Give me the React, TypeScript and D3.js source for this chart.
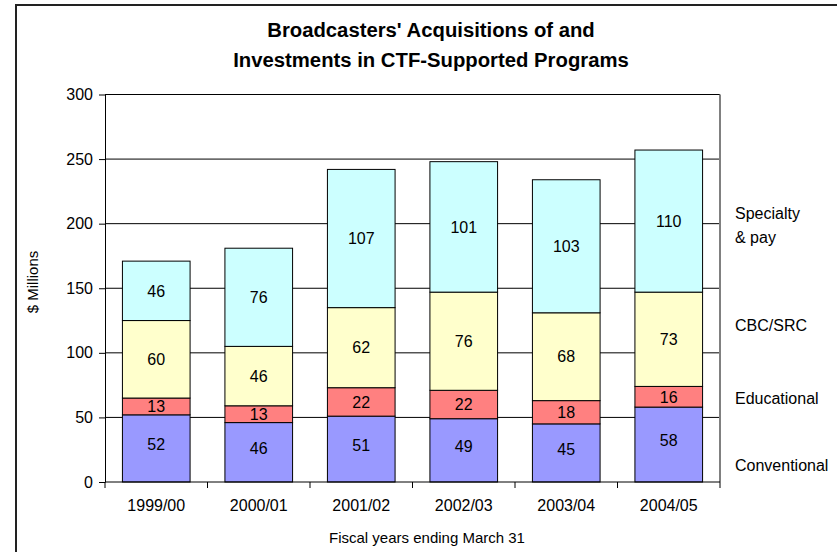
import React, { useRef, useEffect } from "react"
import * as d3 from "d3"

const years = ["1999/00", "2000/01", "2001/02", "2002/03", "2003/04", "2004/05"]
const seriesNames = ["Conventional", "Educational", "CBC/SRC", "Specialty & pay"]
const conventional = [52, 46, 51, 49, 45, 58]
const educational = [13, 13, 22, 22, 18, 16]
const cbc = [60, 46, 62, 76, 68, 73]
const specialty = [46, 76, 107, 101, 103, 110]
const yTicks = [0, 50, 100, 150, 200, 250, 300]

const colors = ["#9999ff", "#ff8080", "#ffffcc", "#ccffff"]

export default function App() {
  const svgRef = useRef(null)

  useEffect(() => {
    const svg = d3.select(svgRef.current)
    svg.selectAll("*").remove()

    const font = "'Liberation Sans', Arial, sans-serif"
    const fs = 16
    const left = 105, right = 720, top = 94.5, bottom = 482

    const rows = years.map((y, i) => ({
      year: y,
      Conventional: conventional[i],
      Educational: educational[i],
      "CBC/SRC": cbc[i],
      "Specialty & pay": specialty[i]
    }))
    const stacked = d3.stack().keys(seriesNames)(rows)

    const x = d3.scaleBand().domain(years).range([left, right]).paddingInner(0.34).paddingOuter(0.17)
    const y = d3.scaleLinear().domain([0, 300]).range([bottom, top])

    // outer chart frame
    svg.append("rect")
      .attr("x", 16).attr("y", 5).attr("width", 900).attr("height", 600)
      .attr("fill", "#fff").attr("stroke", "#222").attr("stroke-width", 2)

    // title
    const title = svg.append("text")
      .attr("font-family", font).attr("font-weight", "bold").attr("font-size", 20.3)
      .attr("text-anchor", "middle")
    title.append("tspan").attr("x", 431).attr("y", 37).text("Broadcasters' Acquisitions of and")
    title.append("tspan").attr("x", 431).attr("y", 67).text("Investments in CTF-Supported Programs")

    // gridlines
    svg.append("g").selectAll("line")
      .data(yTicks.filter(d => d > 0))
      .enter().append("line")
      .attr("x1", left).attr("x2", right)
      .attr("y1", d => y(d)).attr("y2", d => y(d))
      .attr("stroke", "#000").attr("stroke-width", 1)

    // right border of plot
    svg.append("line")
      .attr("x1", right).attr("x2", right).attr("y1", top).attr("y2", bottom)
      .attr("stroke", "#808080").attr("stroke-width", 2)

    // bars
    const layer = svg.append("g").selectAll("g")
      .data(stacked)
      .enter().append("g")
      .attr("fill", (d, i) => colors[i])

    layer.selectAll("rect")
      .data(d => d)
      .enter().append("rect")
      .attr("x", d => x(d.data.year))
      .attr("width", x.bandwidth())
      .attr("y", d => y(d[1]))
      .attr("height", d => y(d[0]) - y(d[1]))
      .attr("stroke", "#000").attr("stroke-width", 1)

    layer.selectAll("text")
      .data(d => d.map(p => ({ p, key: d.key })))
      .enter().append("text")
      .attr("x", d => x(d.p.data.year) + x.bandwidth() / 2)
      .attr("y", d => y((d.p[0] + d.p[1]) / 2) - (d.key === "Conventional" ? 4 : 0))
      .attr("dy", "0.36em")
      .attr("text-anchor", "middle")
      .attr("font-family", font).attr("font-size", fs)
      .attr("fill", "#000")
      .text(d => d.p[1] - d.p[0])

    // y axis
    const yAxis = svg.append("g")
      .attr("transform", `translate(${left},0)`)
      .call(d3.axisLeft(y).tickValues(yTicks).tickSize(6).tickSizeOuter(0))
    yAxis.select(".domain").attr("stroke", "#000")
    yAxis.selectAll("text").attr("font-family", font).attr("font-size", fs).attr("fill", "#000").attr("x", -12)

    // x axis
    const xAxis = svg.append("g")
      .attr("transform", `translate(0,${bottom})`)
    xAxis.append("line").attr("x1", left).attr("x2", right).attr("stroke", "#000")
    xAxis.selectAll(".tk")
      .data(d3.range(years.length + 1))
      .enter().append("line")
      .attr("x1", i => left + i * x.step()).attr("x2", i => left + i * x.step())
      .attr("y1", 0).attr("y2", 6).attr("stroke", "#000")
    xAxis.selectAll("text")
      .data(years)
      .enter().append("text")
      .attr("x", d => x(d) + x.bandwidth() / 2)
      .attr("y", 29)
      .attr("text-anchor", "middle")
      .attr("font-family", font).attr("font-size", fs)
      .text(d => d)

    // axis titles
    svg.append("text")
      .attr("x", 427).attr("y", 543)
      .attr("text-anchor", "middle")
      .attr("font-family", font).attr("font-size", 15)
      .text("Fiscal years ending March 31")

    svg.append("text")
      .attr("transform", "translate(38,282) rotate(-90)")
      .attr("text-anchor", "middle")
      .attr("font-family", font).attr("font-size", 15)
      .text("$ Millions")

    // series labels on the right
    const legend = [
      { lines: ["Specialty", "& pay"], y: 219 },
      { lines: ["CBC/SRC"], y: 331 },
      { lines: ["Educational"], y: 404 },
      { lines: ["Conventional"], y: 471 }
    ]
    legend.forEach(l => {
      const t = svg.append("text").attr("font-family", font).attr("font-size", fs)
      l.lines.forEach((s, j) => {
        t.append("tspan").attr("x", 735).attr("y", l.y + j * 24).text(s)
      })
    })
  }, [])

  return (
    <svg ref={svgRef} width={837} height={552}
      style={{ position: "absolute", left: 0, top: 0, background: "#fff" }}></svg>
  )
}
